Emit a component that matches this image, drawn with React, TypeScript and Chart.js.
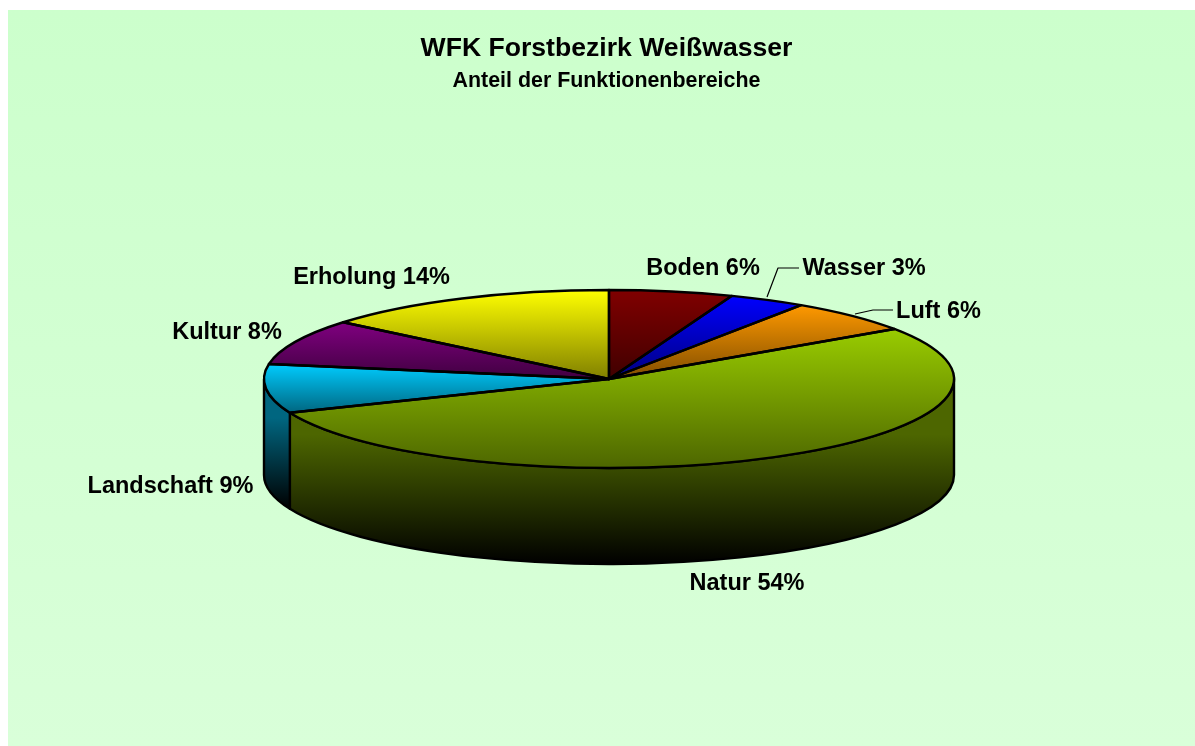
import React, { useEffect, useRef } from "react";
import Chart from "chart.js/auto";

const titleText = "WFK Forstbezirk Weißwasser";
const subtitleText = "Anteil der Funktionenbereiche";
const categories = ["Boden", "Wasser", "Luft", "Natur", "Landschaft", "Kultur", "Erholung"];
const shares = [5.8, 3.6, 6.1, 53.3, 8.9, 8.3, 14];
const printedShares = ["6%", "3%", "6%", "54%", "9%", "8%", "14%"];
const topColors = ["#800000", "#0000FF", "#FF9900", "#99CC00", "#00CCFF", "#800080", "#FFFF00"];
const shadeColors = ["#400000", "#000080", "#804D00", "#4D6600", "#006680", "#400040", "#808000"];

// layout of the tilted pie
const RADIUS = 345;
const TILT = 89 / 345;
const DEPTH = 96;
const PIE_SHIFT = 2.5;
const labelFont = "bold 23.5px 'Liberation Sans', Arial, sans-serif";
const labelOffsets = [[94, -110], [255, -110], [329.5, -67], [138, 205], [-438.5, 108], [-382, -46], [-237.5, -101]];
const leaders: Record<number, number[][]> = {
  1: [[158, -82], [169, -111], [190, -111]],
  2: [[246, -65], [264, -69], [284, -69]],
};

function sectorSpan(index: number) {
  const total = shares.reduce((a, b) => a + b, 0);
  const before = shares.slice(0, index).reduce((a, b) => a + b, 0);
  const a1 = -Math.PI / 2 + (before / total) * Math.PI * 2;
  const a2 = a1 + (shares[index] / total) * Math.PI * 2;
  const ys = [0, Math.sin(a1), Math.sin(a2)];
  if (a1 < Math.PI / 2 && a2 > Math.PI / 2) ys.push(1);
  if (a1 < -Math.PI / 2 && a2 > -Math.PI / 2) ys.push(-1);
  return { min: Math.min(...ys), max: Math.max(...ys) };
}

const pie3d = {
  id: "pie3d",
  beforeDatasetsDraw(chart: any) {
    const ctx = chart.ctx;
    const arcs = chart.getDatasetMeta(0).data;
    ctx.save();
    ctx.translate(PIE_SHIFT, 0);
    ctx.save();
    ctx.lineWidth = 2.4;
    ctx.lineJoin = "round";
    ctx.strokeStyle = "#000";
    arcs.forEach((arc: any, i: number) => {
      const a1 = Math.max(arc.startAngle, 0);
      const a2 = Math.min(arc.endAngle, Math.PI);
      if (a2 <= a1) return;
      const { x, y, outerRadius: r } = arc;
      const ys = [Math.sin(a1), Math.sin(a2)];
      if (a1 < Math.PI / 2 && a2 > Math.PI / 2) ys.push(1);
      const g = ctx.createLinearGradient(0, y + Math.min(...ys) * r * TILT, 0, y + Math.max(...ys) * r * TILT + DEPTH);
      g.addColorStop(0, shadeColors[i]);
      g.addColorStop(0.3, shadeColors[i]);
      g.addColorStop(1, "#000000");
      ctx.beginPath();
      ctx.ellipse(x, y, r, r * TILT, 0, a1, a2);
      ctx.ellipse(x, y + DEPTH, r, r * TILT, 0, a2, a1, true);
      ctx.closePath();
      ctx.fillStyle = g;
      ctx.fill();
      ctx.stroke();
    });
    ctx.restore();
    const first = arcs[0];
    ctx.save();
    ctx.translate(first.x, first.y);
    ctx.scale(1, TILT);
    ctx.translate(-first.x, -first.y);
  },
  afterDatasetsDraw(chart: any) {
    const ctx = chart.ctx;
    ctx.restore();
    const arcs = chart.getDatasetMeta(0).data;
    ctx.save();
    ctx.lineWidth = 2.4;
    ctx.lineJoin = "round";
    ctx.strokeStyle = "#000";
    arcs.forEach((arc: any) => {
      const { x, y, outerRadius: r, startAngle, endAngle } = arc;
      ctx.beginPath();
      ctx.moveTo(x, y);
      ctx.ellipse(x, y, r, r * TILT, 0, startAngle, endAngle);
      ctx.closePath();
      ctx.stroke();
    });
    const cx = arcs[0].x;
    const cy = arcs[0].y;
    ctx.lineWidth = 1.2;
    Object.values(leaders).forEach((pts) => {
      ctx.beginPath();
      pts.forEach(([dx, dy], k) => (k ? ctx.lineTo(cx + dx, cy + dy) : ctx.moveTo(cx + dx, cy + dy)));
      ctx.stroke();
    });
    ctx.fillStyle = "#000";
    ctx.font = labelFont;
    ctx.textAlign = "center";
    ctx.textBaseline = "middle";
    categories.forEach((name, i) => {
      ctx.fillText(`${name} ${printedShares[i]}`, cx + labelOffsets[i][0], cy + labelOffsets[i][1]);
    });
    ctx.restore();
    ctx.restore();
  },
};

export default function App() {
  const ref = useRef<HTMLCanvasElement>(null);
  useEffect(() => {
    const chart = new Chart(ref.current!, {
      type: "pie",
      data: {
        labels: categories,
        datasets: [
          {
            data: shares,
            clip: false,
            borderWidth: 0,
            backgroundColor: (c: any) => {
              const area = c.chart.chartArea;
              if (!area || c.dataIndex === undefined) return topColors[0];
              const cy = (area.top + area.bottom) / 2;
              const span = sectorSpan(c.dataIndex);
              const g = c.chart.ctx.createLinearGradient(0, cy + span.min * RADIUS, 0, cy + span.max * RADIUS);
              g.addColorStop(0, topColors[c.dataIndex]);
              g.addColorStop(1, shadeColors[c.dataIndex]);
              return g;
            },
          } as any,
        ],
      },
      options: {
        responsive: false,
        animation: false,
        radius: RADIUS,
        layout: { padding: { bottom: 81.6 } },
        plugins: {
          legend: { display: false },
          tooltip: { enabled: false },
          title: {
            display: true,
            text: titleText,
            color: "#000",
            font: { family: "'Liberation Sans', Arial, sans-serif", size: 26.6, weight: "bold", lineHeight: 1.2 },
            padding: { top: 33, bottom: 3 },
          },
          subtitle: {
            display: true,
            text: subtitleText,
            color: "#000",
            font: { family: "'Liberation Sans', Arial, sans-serif", size: 21.4, weight: "bold", lineHeight: 1.2 },
            padding: { top: 0, bottom: 0 },
          },
        },
      } as any,
      plugins: [pie3d],
    });
    return () => chart.destroy();
  }, []);
  return (
    <div style={{ position: "fixed", left: 0, top: 0, width: 1195, height: 746, background: "#fff", overflow: "hidden" }}>
      <div
        style={{
          position: "absolute",
          left: 8,
          top: 10,
          right: 0,
          bottom: 0,
          background: "linear-gradient(#CCFFCC, #D9FFD9)",
        }}
      />
      <canvas ref={ref} width={1177} height={746} style={{ position: "absolute", left: 18, top: 0, display: "block" }} />
    </div>
  );
}
